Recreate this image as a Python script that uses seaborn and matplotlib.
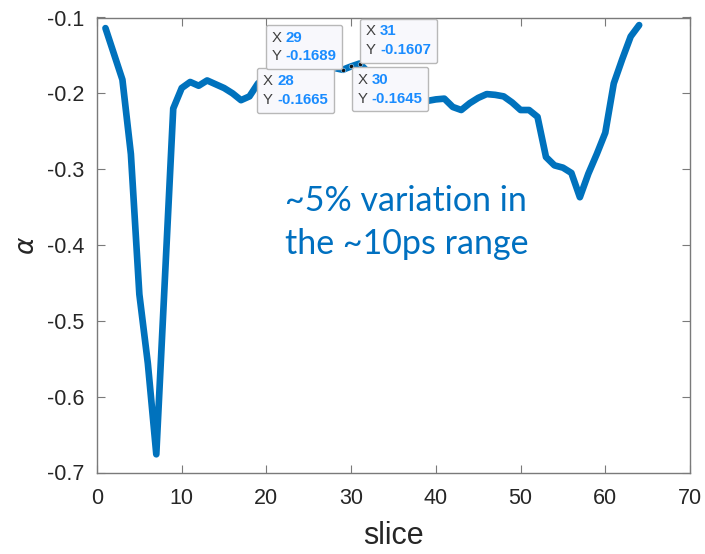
import numpy as np
import pandas as pd
import matplotlib
matplotlib.use("Agg")
import matplotlib.pyplot as plt
import seaborn as sns
from matplotlib.offsetbox import TextArea, HPacker, VPacker, AnnotationBbox

# ---- data ----
slices = list(range(1, 65))
alpha = [-0.114, -0.148, -0.182, -0.280, -0.465, -0.556, -0.676, -0.448, -0.220, -0.193,
         -0.185, -0.190, -0.183, -0.188, -0.193, -0.200, -0.209, -0.204, -0.187, -0.178,
         -0.176, -0.178, -0.174, -0.172, -0.170, -0.171, -0.168, -0.1665, -0.1689, -0.1645,
         -0.1607, -0.172, -0.185, -0.195, -0.200, -0.205, -0.208, -0.210, -0.210, -0.208,
         -0.207, -0.218, -0.222, -0.213, -0.206, -0.201, -0.202, -0.204, -0.212, -0.222,
         -0.222, -0.231, -0.284, -0.295, -0.298, -0.305, -0.337, -0.306, -0.280, -0.252,
         -0.187, -0.155, -0.125, -0.110]
tip_slices = [28, 29, 30, 31]
x_ticks = [0, 10, 20, 30, 40, 50, 60, 70]
y_ticks = [-0.7, -0.6, -0.5, -0.4, -0.3, -0.2, -0.1]
x_label = "slice"
y_label = r"$\alpha$"
note = "~5% variation in\nthe ~10ps range"

df = pd.DataFrame({"slice": slices, "alpha": alpha})

sns.set_style("white")
plt.rcParams["font.family"] = ["Liberation Sans", "DejaVu Sans"]
plt.rcParams["axes.unicode_minus"] = False

fig = plt.figure(figsize=(7.05, 5.54), dpi=100)
ax = fig.add_axes([97 / 705, 1 - 472.5 / 554, 593 / 705, 455 / 554])

sns.lineplot(data=df, x="slice", y="alpha", ax=ax, color="#0072BD", linewidth=4.8,
             solid_capstyle="round", solid_joinstyle="round", zorder=3)

# datatip markers
tip_vals = [alpha[slices.index(s)] for s in tip_slices]
ax.plot(tip_slices, tip_vals, "o", color="#111111", ms=3.2, mec="#6fb5e6", mew=0.6, zorder=4)

align_map = {28: ((1, 1), (-4.5, -4.5)), 29: ((1, 0), (-4.5, 4.5)),
             30: ((0, 1), (4.5, -4.5)), 31: ((0, 0), (4.5, 4.5))}
for s, v in zip(tip_slices, tip_vals):
    fs = 10.8
    r1 = HPacker(children=[TextArea("X", textprops=dict(color="#404040", size=fs)),
                           TextArea(f"{s}", textprops=dict(color="#1a8cff", size=fs, weight="bold"))],
                 sep=3, pad=0, align="baseline")
    r2 = HPacker(children=[TextArea("Y", textprops=dict(color="#404040", size=fs)),
                           TextArea(f"{v:.4f}", textprops=dict(color="#1a8cff", size=fs, weight="bold"))],
                 sep=3, pad=0, align="baseline")
    box = VPacker(children=[r1, r2], sep=3.5, pad=0, align="left")
    al, off = align_map[s]
    ab = AnnotationBbox(box, (s, v), xybox=off, xycoords="data", boxcoords="offset points",
                        box_alignment=al, frameon=True, fontsize=10,
                        bboxprops=dict(boxstyle="round,pad=0.42,rounding_size=0.15",
                                       fc="#f8f8fc", ec="#b8b8b8", lw=1.0))
    ab.set_zorder(5)
    ax.add_artist(ab)

ax.set_xlim(0, 70)
ax.set_ylim(-0.7, -0.1)
ax.set_xticks(x_ticks)
ax.set_yticks(y_ticks)
ax.set_yticklabels([f"{t:.1f}" for t in y_ticks])
ax.tick_params(axis="both", which="both", direction="in", length=6, width=0.8,
               color="#7a7a7a", labelcolor="#262626", labelsize=15.5,
               top=True, right=True, bottom=True, left=True)
ax.tick_params(axis="x", pad=11)
ax.tick_params(axis="y", pad=9)
for sp in ax.spines.values():
    sp.set_color("#7a7a7a")
    sp.set_linewidth(1.0)
    sp.set_visible(True)

ax.set_xlabel(x_label, fontsize=22, color="#262626", labelpad=9)
ax.set_ylabel(y_label, fontsize=19, color="#262626", labelpad=6)

ax.text(0.317, 0.632, note, transform=ax.transAxes, ha="left", va="top",
        fontsize=24.5, color="#0070C0", family=["Lato", "DejaVu Sans"], linespacing=1.42)

fig.savefig("out.png", dpi=100)
